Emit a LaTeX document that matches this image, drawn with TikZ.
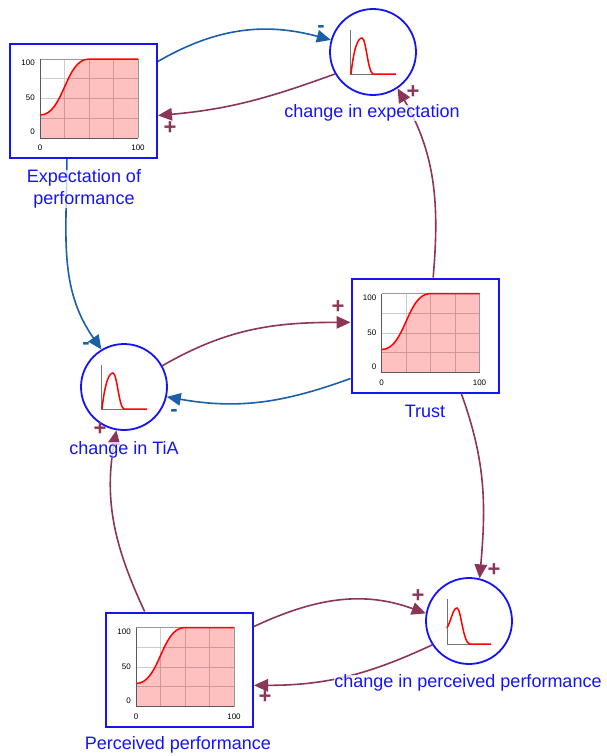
\documentclass[tikz,border=0pt]{standalone}
\usepackage{fontspec}
\setmainfont{Liberation Sans}
\usetikzlibrary{arrows.meta,calc}
\definecolor{nodeblue}{RGB}{20,20,245}
\definecolor{linkblue}{RGB}{26,95,168}
\definecolor{linkplum}{RGB}{139,53,89}
\definecolor{plotpink}{RGB}{255,192,192}

\begin{document}
\begin{tikzpicture}[x=1pt,y=1pt,
  stock/.style={draw=nodeblue,line width=2pt,fill=white,minimum width=147pt,minimum height=114pt,inner sep=0pt},
  rate/.style={draw=nodeblue,line width=1.8pt,fill=white,circle,minimum size=86pt,inner sep=0pt},
  caption/.style={text=nodeblue,font=\fontsize{18}{22}\selectfont,align=center,fill=white,fill opacity=0.75,text opacity=1,inner sep=0pt},
  link/.style={line width=1.6pt,-{Triangle[length=14pt,width=12.5pt]}},
  plussign/.style={text=linkplum,font=\fontsize{22}{22}\selectfont\bfseries,inner sep=0pt},
  minussign/.style={text=linkblue,font=\fontsize{22}{22}\selectfont\bfseries,inner sep=0pt},
  tick/.style={font=\fontsize{8}{8}\selectfont,inner sep=0pt},
  % graph of a lookup table: origin at the top-left corner of the plot area
  pics/lookup/.style={code={
    \fill[plotpink] (0,-79) -- (0,-56) .. controls (24,-56) and (25,0) .. (49,0) -- (98,0) -- (98,-79) -- cycle;
    \draw[black,opacity=0.2,line width=0.7pt]
      (24.5,0) -- (24.5,-79) (49,0) -- (49,-79) (73.5,0) -- (73.5,-79)
      (0,-19.75) -- (98,-19.75) (0,-39.5) -- (98,-39.5) (0,-59.25) -- (98,-59.25);
    \draw[black!40,line width=0.6pt] (0,0) -- (98,0) -- (98,-79);
    \draw[red,line width=1.5pt] (0,-56) .. controls (24,-56) and (25,0) .. (49,0) -- (98,0);
    \draw[black!65,line width=0.8pt] (0,0) -- (0,-79) -- (98,-79);
    \node[tick,anchor=east] at (-5,-4) {100};
    \node[tick,anchor=east] at (-5,-39) {50};
    \node[tick,anchor=east] at (-5,-73) {0};
    \node[tick] at (0,-89) {0};
    \node[tick] at (98,-89) {100};
  }},
  % pulse graph inside a rate, centred on the circle
  pics/pulse/.style={code={
    \draw[black!55,line width=0.8pt] (-23,22) -- (-23,-22) -- (8,-22);
    \draw[red,line width=1.5pt] (-22,-22) .. controls (-19,5) and (-15,14) .. (-11,14)
      .. controls (-7,14) and (-5,-21) .. (0,-22) -- (23,-22);
  }},
  pics/pulseb/.style={code={
    \draw[black!55,line width=0.8pt] (-22,22) -- (-22,-23) -- (8,-23);
    \draw[red,line width=1.5pt] (-22,-7) .. controls (-18,0) and (-16,13) .. (-12,13)
      .. controls (-8,13) and (-6,-23) .. (1,-23) -- (22,-23);
  }}
]
\useasboundingbox (0,0) rectangle (606,-756);

% stocks
\node[stock] (ex) at (83.5,-101) {};
\node[stock] (tr) at (425,-335.5) {};
\node[stock] (pp) at (179.5,-669.5) {};
\pic at ($(ex.center)+(-43.5,42)$) {lookup};
\pic at ($(tr.center)+(-43.5,42)$) {lookup};
\pic at ($(pp.center)+(-43.5,42)$) {lookup};

% rates
\node[rate] (ce) at (373,-52) {};
\node[rate] (tia) at (124,-387) {};
\node[rate] (cpp) at (469,-621) {};
\pic at (ce.center) {pulse};
\pic at (tia.center) {pulse};
\pic at (cpp.center) {pulseb};

% causal links
\draw[link,linkblue] (ex.28) to[out=30,in=165] (ce.164);
\draw[link,linkplum] (ce.210) to[out=200,in=5] (ex.-11);
\draw[link,linkplum] (tr.82) to[out=85,in=-60] (ce.-56);
\draw[link,linkblue] (ex.-106) to[out=-90,in=125] (tia.121);
\draw[link,linkplum] (tia.29) to[out=30,in=180] (tr.170);
\draw[link,linkblue] (tr.210) to[out=200,in=-10] (tia.-13);
\draw[link,linkplum] (pp.121) to[out=115,in=-100] (tia.-100);
\draw[link,linkplum] (tr.-58) to[out=-70,in=85] (cpp.76);
\draw[link,linkplum] (pp.30) to[out=25,in=160] (cpp.170);
\draw[link,linkplum] (cpp.213) to[out=205,in=0] (pp.-12);

% link polarities
\node[minussign] (s1) at (321,-29) {-};
\node[plussign] (s2) at (170,-128) {+};
\node[plussign] (s3) at (413,-92) {+};
\node[minussign] (s4) at (86,-346) {-};
\node[plussign] (s5) at (338,-307) {+};
\node[minussign] (s6) at (174,-413) {-};
\node[plussign] (s7) at (100,-429) {+};
\node[plussign] (s8) at (494,-570) {+};
\node[plussign] (s9) at (418,-596) {+};
\node[plussign] (s10) at (265,-697) {+};

% names
\node[caption] (lex) at (84,-189) {Expectation of\\performance};
\node[caption] (lce) at (372,-113) {change in expectation};
\node[caption] (ltr) at (425,-411) {Trust};
\node[caption] (ltia) at (124,-450) {change in TiA};
\node[caption] (lpp) at (178,-745) {Perceived performance};
\node[caption] (lcpp) at (468,-683) {change in perceived performance};
\end{tikzpicture}
\end{document}
